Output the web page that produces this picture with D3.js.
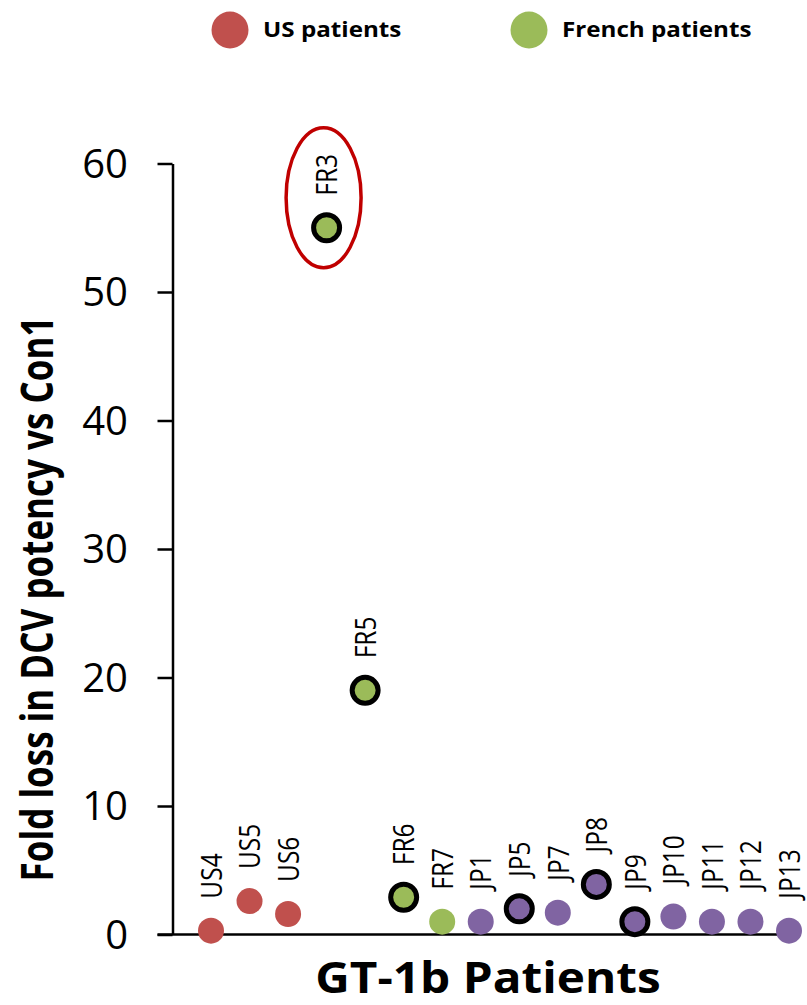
<!DOCTYPE html>
<html lang="en">
<head>
  <meta charset="UTF-8">
  <title>fold-loss-scatter</title>
  <script src="https://cdn.jsdelivr.net/npm/d3@7"></script>
  <style>
    body { margin: 0; background: #fff; }
    text { font-family: "Open Sans", sans-serif; fill: #000; }
  </style>
</head>
<body>
<script>
// values
let patients = ['US4', 'US5', 'US6', 'FR3', 'FR5', 'FR6', 'FR7', 'JP1', 'JP5', 'JP7', 'JP8', 'JP9', 'JP10', 'JP11', 'JP12', 'JP13'];
let foldLoss = [0.3, 2.6, 1.6, 55, 19, 2.9, 1.0, 1.0, 2.0, 1.7, 3.9, 1.0, 1.4, 1.0, 1.0, 0.3];
let cohort = ['US', 'US', 'US', 'FR', 'FR', 'FR', 'FR', 'JP', 'JP', 'JP', 'JP', 'JP', 'JP', 'JP', 'JP', 'JP'];
let outlined = ['FR3', 'FR5', 'FR6', 'JP5', 'JP8', 'JP9'];
let yTicks = [0, 10, 20, 30, 40, 50, 60];
let legendNames = ['US patients', 'French patients'];
let legendKeys = ['US', 'FR'];

let colors = {US: '#C0504D', FR: '#9BBB59', JP: '#8064A2'};

let width = 807, height = 1005;
let axisX = 172.5;

let svg = d3.select('body').append('svg')
  .attr('width', width)
  .attr('height', height);

let x = d3.scalePoint().domain(patients).range([211, 789]);
let y = d3.scaleLinear().domain([0, 60]).range([934.5, 163.5]);

let data = patients.map(function (p, i) {
  return {name: p, value: foldLoss[i], group: cohort[i], ring: outlined.indexOf(p) >= 0};
});

// y axis
let yAxis = d3.axisLeft(y)
  .tickValues(yTicks)
  .tickSize(15)
  .tickSizeOuter(0)
  .tickFormat('');

let yG = svg.append('g')
  .attr('transform', 'translate(' + axisX + ',0)')
  .call(yAxis);
yG.select('.domain').attr('stroke-width', 2.5);
yG.selectAll('.tick line').attr('stroke-width', 2.5);

svg.append('g').selectAll('text')
  .data(yTicks)
  .enter().append('text')
  .attr('x', 128)
  .attr('y', function (d) { return y(d); })
  .attr('dy', '0.36em')
  .attr('text-anchor', 'end')
  .style('font-size', '40px')
  .text(function (d) { return d; });

// x axis baseline
svg.append('line')
  .attr('x1', axisX - 15)
  .attr('x2', 778)
  .attr('y1', y(0))
  .attr('y2', y(0))
  .attr('stroke', '#000')
  .attr('stroke-width', 2.5);

// points
svg.append('g').selectAll('circle')
  .data(data)
  .enter().append('circle')
  .attr('cx', function (d) { return x(d.name); })
  .attr('cy', function (d) { return y(d.value); })
  .attr('r', 13)
  .attr('fill', function (d) { return colors[d.group]; })
  .attr('stroke', function (d) { return d.ring ? '#000' : 'none'; })
  .attr('stroke-width', 5);

// point labels, rotated
svg.append('g').selectAll('text')
  .data(data)
  .enter().append('text')
  .attr('transform', function (d) {
    return 'translate(' + x(d.name) + ',' + (y(d.value) - 32) + ') scale(1.22,1) rotate(-90)';
  })
  .attr('dy', '0.36em')
  .style('font-size', '24.5px')
  .text(function (d) { return d.name; });

// red ellipse around FR3
svg.append('ellipse')
  .attr('cx', x('FR3') - 3)
  .attr('cy', y(55) - 30)
  .attr('rx', 37.5)
  .attr('ry', 70)
  .attr('fill', 'none')
  .attr('stroke', '#C00000')
  .attr('stroke-width', 3.5);

// axis titles
svg.append('text')
  .attr('transform', 'translate(53,599) scale(1.3,1) rotate(-90)')
  .attr('text-anchor', 'middle')
  .style('font-size', '35px')
  .style('font-weight', 'bold')
  .text('Fold loss in DCV potency vs Con1');

svg.append('text')
  .attr('transform', 'translate(488,993) scale(1.11,1)')
  .attr('text-anchor', 'middle')
  .style('font-size', '43px')
  .style('font-weight', 'bold')
  .text('GT-1b Patients');

// legend
let legend = svg.append('g').selectAll('g')
  .data(legendNames)
  .enter().append('g')
  .attr('transform', function (d, i) { return 'translate(' + [230, 529][i] + ',30)'; });

legend.append('circle')
  .attr('r', 18.5)
  .attr('fill', function (d, i) { return colors[legendKeys[i]]; });

legend.append('text')
  .attr('transform', 'translate(33,7) scale(1.1,1)')
  .style('font-size', '22px')
  .style('font-weight', 'bold')
  .text(function (d) { return d; });
</script>
</body>
</html>
